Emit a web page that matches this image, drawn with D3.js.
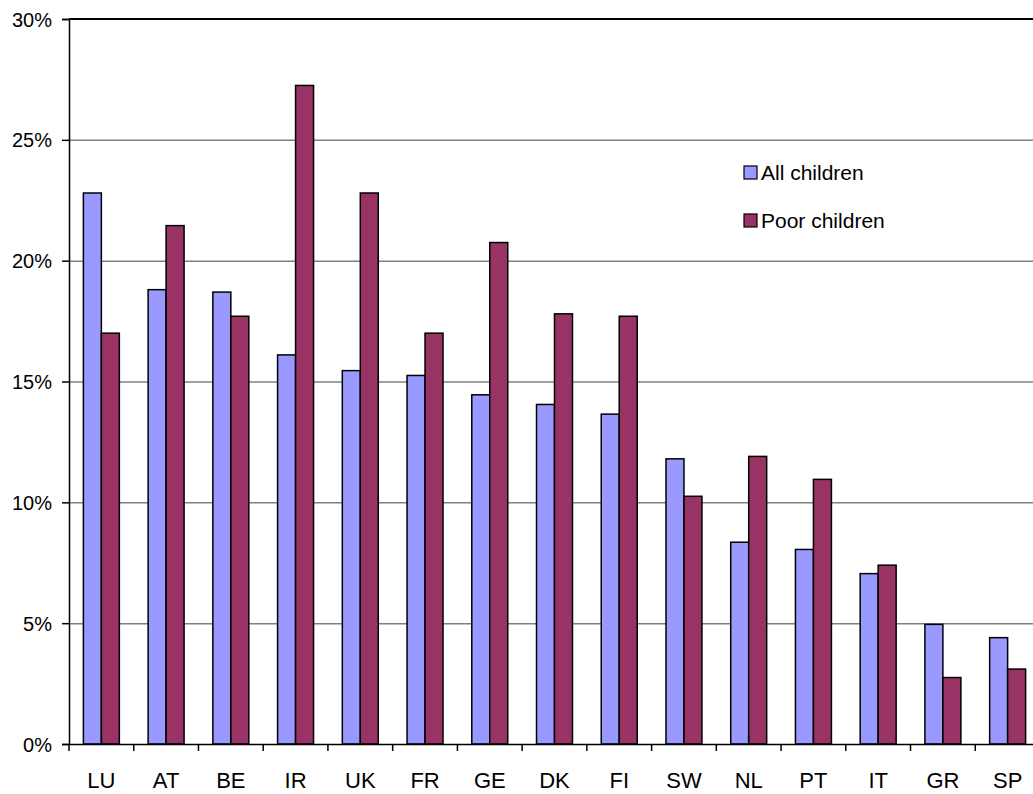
<!DOCTYPE html>
<html>
<head>
<meta charset="utf-8">
<script src="https://cdn.jsdelivr.net/npm/d3@7"></script>
<style>
  body { margin: 0; background: #fff; }
  text { font-family: "Liberation Sans", Arial, sans-serif; fill: #000; }
  .grid line { stroke: #808080; stroke-width: 1.5; }
  .grid path { display: none; }
</style>
</head>
<body>
<div id="chart"></div>
<script>
(function() {
  var margin = { top: 19, left: 69, right: -7, bottom: 50 },
    width = 1033 - margin.left - margin.right,
    height = 794 - margin.top - margin.bottom;

  var countries = ["LU", "AT", "BE", "IR", "UK", "FR", "GE", "DK", "FI", "SW", "NL", "PT", "IT", "GR", "SP"]
  var allChildren = [22.8, 18.8, 18.7, 16.1, 15.45, 15.25, 14.45, 14.05, 13.65, 11.8, 8.35, 8.05, 7.05, 4.95, 4.4]
  var poorChildren = [17.0, 21.45, 17.7, 27.25, 22.8, 17.0, 20.75, 17.8, 17.7, 10.25, 11.9, 10.95, 7.4, 2.75, 3.1]
  var series = ["All children", "Poor children"]
  var colors = ["#9999FF", "#993366"]
  var yTicks = [0, 5, 10, 15, 20, 25, 30]

  var svg = d3.select("#chart")
    .append("svg")
    .attr("width", 1033)
    .attr("height", 794)
    .append("g")
    .attr("transform", "translate(" + margin.left + "," + margin.top + ")");

  var xScale = d3.scaleBand().domain(countries).range([0, width]).paddingInner(0).paddingOuter(0)
  var xInner = d3.scaleBand().domain(series).range([0, xScale.bandwidth()]).paddingInner(0).paddingOuter(0.8)
  var yScale = d3.scaleLinear().domain([0, 30]).range([height, 0])
  var colorScale = d3.scaleOrdinal().domain(series).range(colors)

  // gridlines
  svg.append("g")
    .attr("class", "grid")
    .call(d3.axisLeft(yScale).tickValues(yTicks.slice(1, -1)).tickSize(-width).tickFormat(""))

  // top border
  svg.append("line")
    .attr("x1", 0).attr("x2", width)
    .attr("y1", yScale(30)).attr("y2", yScale(30))
    .attr("stroke", "#000").attr("stroke-width", 2)

  var rows = countries.map(function(c, i) {
    return { country: c, values: [allChildren[i], poorChildren[i]] }
  })

  var groups = svg.selectAll(".country")
    .data(rows)
    .enter().append("g")
    .attr("class", "country")
    .attr("transform", function(d) { return "translate(" + xScale(d.country) + ",0)" })

  groups.selectAll("rect")
    .data(function(d) { return d.values.map(function(v, j) { return { s: series[j], v: v } }) })
    .enter().append("rect")
    .attr("x", function(d) { return xInner(d.s) })
    .attr("width", xInner.bandwidth())
    .attr("y", function(d) { return yScale(d.v) })
    .attr("height", function(d) { return height - yScale(d.v) })
    .attr("fill", function(d) { return colorScale(d.s) })
    .attr("stroke", "#000")
    .attr("stroke-width", 1.5)

  // y axis
  var yAxis = svg.append("g")
    .call(d3.axisLeft(yScale).tickValues(yTicks).tickSize(7).tickPadding(10).tickFormat(function(d) { return d + "%" }))
  yAxis.select(".domain").attr("stroke", "#000").attr("stroke-width", 1.5)
  yAxis.selectAll(".tick line").attr("stroke", "#000").attr("stroke-width", 1.5)
  yAxis.selectAll("text").style("font-size", "20px").attr("dy", "0.35em")

  // x axis
  var xAxis = svg.append("g")
    .attr("transform", "translate(0," + height + ")")
    .call(d3.axisBottom(xScale).tickSize(0))
  xAxis.select(".domain").attr("stroke", "#000").attr("stroke-width", 1.5)
  xAxis.selectAll("text").style("font-size", "22px").attr("y", 44).attr("dy", 0)

  // x ticks at category boundaries
  svg.selectAll(".xtick")
    .data(countries)
    .enter().append("line")
    .attr("class", "xtick")
    .attr("x1", function(d) { return xScale(d) })
    .attr("x2", function(d) { return xScale(d) })
    .attr("y1", height).attr("y2", height + 7)
    .attr("stroke", "#000").attr("stroke-width", 1.5)

  // legend
  var legend = svg.selectAll(".legend")
    .data(series)
    .enter().append("g")
    .attr("class", "legend")
    .attr("transform", function(d, i) { return "translate(" + (744 - margin.left) + "," + (166 - margin.top + i * 48) + ")" })

  legend.append("rect")
    .attr("width", 13).attr("height", 13)
    .attr("fill", function(d) { return colorScale(d) })
    .attr("stroke", "#000").attr("stroke-width", 1.2)

  legend.append("text")
    .attr("x", 17).attr("y", 7).attr("dy", "0.35em")
    .style("font-size", "21px")
    .text(function(d) { return d })
})();
</script>
</body>
</html>
